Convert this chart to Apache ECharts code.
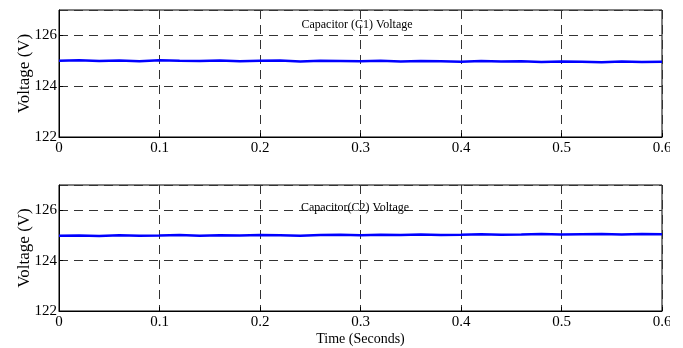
<!DOCTYPE html>
<html lang="en">
<head>
  <meta charset="UTF-8">
  <title>Capacitor Voltages</title>
  <script src="https://cdn.jsdelivr.net/npm/echarts@6/dist/echarts.min.js"></script>
</head>
<body style="margin:0;background:#fff;">
<div id="main" style="width:683px;height:348px;"></div>
<script>
  // time (s)
  var timeSet = [0, 0.02, 0.04, 0.06, 0.08, 0.10, 0.12, 0.14, 0.16, 0.18, 0.20, 0.22, 0.24, 0.26, 0.28, 0.30,
                 0.32, 0.34, 0.36, 0.38, 0.40, 0.42, 0.44, 0.46, 0.48, 0.50, 0.52, 0.54, 0.56, 0.58, 0.60];
  // C1 voltage (V)
  var vC1 = [125.00, 125.02, 124.99, 125.01, 124.98, 125.02, 125.00, 124.99, 125.01, 124.98, 125.00, 125.01, 124.97, 125.00, 124.99, 124.98,
             125.00, 124.97, 124.99, 124.98, 124.96, 124.99, 124.97, 124.98, 124.95, 124.97, 124.96, 124.94, 124.97, 124.95, 124.96];
  // C2 voltage (V)
  var vC2 = [124.99, 125.00, 124.98, 125.01, 124.99, 125.00, 125.02, 124.99, 125.01, 125.00, 125.02, 125.01, 124.99, 125.02, 125.03, 125.01,
             125.03, 125.02, 125.04, 125.02, 125.03, 125.05, 125.03, 125.04, 125.06, 125.04, 125.05, 125.06, 125.04, 125.06, 125.05];
  var titles = ['Capacitor (C1) Voltage', 'Capacitor(C2) Voltage'];

  var font = 'Liberation Serif';

  function pairs(ys) {
    var out = [];
    for (var i = 0; i < timeSet.length; i++) out.push([timeSet[i], ys[i]]);
    return out;
  }

  function xAx(idx, withName) {
    return {
      type: 'value', gridIndex: idx, min: 0, max: 0.6, interval: 0.1,
      name: withName ? 'Time (Seconds)' : '',
      nameLocation: 'middle', nameGap: 21, nameMoveOverlap: false,
      nameTextStyle: { fontFamily: font, fontSize: 14, color: '#000' },
      axisLine: { show: true, onZero: false, lineStyle: { color: '#000', width: 1 } },
      axisTick: { show: true, inside: true, length: 4, lineStyle: { color: '#000' } },
      axisLabel: { fontFamily: font, fontSize: 15, color: '#000', margin: 4 },
      splitLine: { show: true, lineStyle: { color: '#333', type: [9, 6], width: 1 } }
    };
  }

  function yAx(idx) {
    return {
      type: 'value', gridIndex: idx, min: 122, max: 127, interval: 2,
      name: 'Voltage (V)', nameLocation: 'middle', nameGap: 26, nameMoveOverlap: false,
      nameTextStyle: { fontFamily: font, fontSize: 17, color: '#000' },
      axisLine: { show: true, lineStyle: { color: '#000', width: 1 } },
      axisTick: { show: true, inside: true, length: 4, lineStyle: { color: '#000' } },
      axisLabel: { fontFamily: font, fontSize: 15, color: '#000', margin: 2, showMaxLabel: false },
      splitLine: { show: true, lineStyle: { color: '#333', type: [9, 6], width: 1 } }
    };
  }

  var myChart = echarts.init(document.getElementById('main'));

  var option = {
    animation: false,
    backgroundColor: '#fff',
    title: [
      { text: titles[0], left: 352, top: 14, textAlign: 'center',
        textStyle: { fontFamily: font, fontSize: 12, fontWeight: 'normal', color: '#000' } },
      { text: titles[1], left: 350, top: 197, textAlign: 'center',
        textStyle: { fontFamily: font, fontSize: 12, fontWeight: 'normal', color: '#000' } }
    ],
    grid: [
      { left: 59, right: 21, top: 10, height: 127, show: true, borderColor: '#000', borderWidth: 1 },
      { left: 59, right: 21, top: 185, height: 126, show: true, borderColor: '#000', borderWidth: 1 }
    ],
    xAxis: [xAx(0, false), xAx(1, true)],
    yAxis: [yAx(0), yAx(1)],
    series: [
      { type: 'line', xAxisIndex: 0, yAxisIndex: 0, data: pairs(vC1), showSymbol: false,
        lineStyle: { color: '#0000ff', width: 2.5 } },
      { type: 'line', xAxisIndex: 1, yAxisIndex: 1, data: pairs(vC2), showSymbol: false,
        lineStyle: { color: '#0000ff', width: 2.5 } }
    ],
    graphic: [
      // the original figure is cropped through the last tick label
      { type: 'rect', shape: { x: 670, y: 138, width: 13, height: 30 }, style: { fill: '#fff' }, z: 100 },
      { type: 'rect', shape: { x: 670, y: 312, width: 13, height: 30 }, style: { fill: '#fff' }, z: 100 }
    ]
  };

  myChart.setOption(option);
</script>
</body>
</html>
